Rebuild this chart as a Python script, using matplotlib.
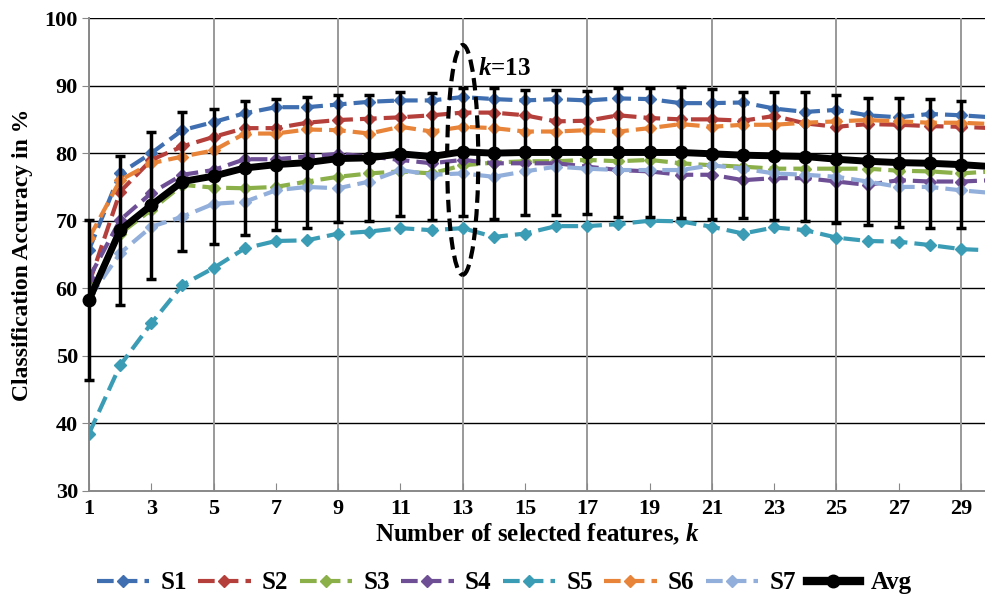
import matplotlib.pyplot as plt
import numpy as np
from matplotlib.patches import Ellipse
from matplotlib.lines import Line2D

# numero de atributos selecionados
k = list(range(1, 31))

s1 = [65.7, 77.0, 80.0, 83.4, 84.6, 85.9, 86.8, 86.8, 87.2, 87.6,
      87.8, 87.8, 88.3, 88.0, 87.8, 88.0, 87.8, 88.1, 88.0, 87.4,
      87.4, 87.5, 86.6, 86.1, 86.4, 85.6, 85.3, 85.8, 85.6, 85.3]
s2 = [60.7, 74.3, 79.0, 81.0, 82.4, 83.7, 83.7, 84.5, 84.9, 85.1,
      85.3, 85.6, 86.0, 86.0, 85.6, 84.7, 84.8, 85.6, 85.2, 85.0,
      85.0, 84.8, 85.5, 84.4, 83.9, 84.3, 84.2, 84.0, 83.9, 83.7]
s3 = [59.3, 68.1, 71.6, 75.3, 74.9, 74.8, 75.0, 75.8, 76.5, 77.0,
      77.3, 77.0, 78.2, 78.6, 78.8, 78.8, 79.0, 78.8, 79.0, 78.5,
      78.2, 78.0, 77.7, 77.7, 77.7, 77.7, 77.4, 77.3, 77.0, 77.3]
s4 = [61.5, 70.1, 74.1, 76.8, 77.5, 79.1, 79.1, 79.5, 79.9, 79.5,
      79.0, 78.5, 79.0, 78.5, 78.5, 78.5, 78.0, 77.5, 77.3, 76.8,
      76.8, 76.0, 76.3, 76.3, 75.8, 75.3, 76.0, 75.8, 75.8, 76.0]
s5 = [38.5, 48.6, 54.8, 60.5, 63.0, 65.9, 67.0, 67.1, 68.1, 68.4,
      68.9, 68.6, 68.9, 67.6, 68.1, 69.2, 69.2, 69.5, 70.0, 69.9,
      69.1, 68.1, 69.0, 68.6, 67.5, 67.0, 66.9, 66.4, 65.8, 65.6]
s6 = [67.4, 76.0, 78.5, 79.5, 80.4, 82.9, 82.9, 83.5, 83.4, 82.9,
      83.9, 83.2, 83.9, 83.7, 83.2, 83.2, 83.4, 83.2, 83.7, 84.3,
      83.9, 84.2, 84.2, 84.5, 84.7, 84.9, 84.7, 84.5, 84.5, 84.3]
s7 = [58.5, 65.2, 69.1, 70.6, 72.5, 72.8, 74.5, 75.0, 74.8, 75.8,
      77.5, 76.8, 77.0, 76.5, 77.3, 78.0, 77.7, 77.5, 77.5, 77.5,
      78.2, 77.7, 77.0, 76.8, 76.5, 75.8, 75.0, 75.0, 74.5, 74.1]
avg = [58.3, 68.6, 72.3, 75.8, 76.6, 77.8, 78.3, 78.6, 79.2, 79.3,
       79.9, 79.5, 80.2, 80.0, 80.1, 80.1, 80.1, 80.1, 80.1, 80.1,
       79.9, 79.7, 79.6, 79.5, 79.1, 78.8, 78.6, 78.5, 78.3, 78.0]
std = [11.8, 11.0, 10.9, 10.3, 10.0, 9.85, 9.65, 9.75, 9.4, 9.3,
       9.2, 9.45, 9.45, 9.7, 9.3, 9.3, 9.15, 9.5, 9.6, 9.75,
       9.65, 9.3, 9.45, 9.55, 9.5, 9.4, 9.6, 9.55, 9.45, 9.4]

nomes = ['S1', 'S2', 'S3', 'S4', 'S5', 'S6', 'S7']
series = [s1, s2, s3, s4, s5, s6, s7]
cores = ['#3f6fb0', '#b5403b', '#8bb04a', '#6e4f96', '#3a9cb5', '#e8843a', '#92aeda']

plt.rcParams['font.family'] = 'Liberation Serif'
plt.rcParams['font.weight'] = 'bold'
# k em italico e negrito, na mesma fonte serifada
plt.rcParams['mathtext.fontset'] = 'custom'
plt.rcParams['mathtext.rm'] = 'Liberation Serif:bold'
plt.rcParams['mathtext.it'] = 'Liberation Serif:italic:bold'
plt.rcParams['mathtext.bf'] = 'Liberation Serif:bold'

fig = plt.figure(figsize=(9.85, 6.01), dpi=100)
ax = fig.add_axes([89/985, 110/601, 896/985, 473/601])

# linhas de grade
for yy in range(40, 101, 10):
    ax.axhline(yy, color='black', lw=1.0, zorder=0)
for xx in range(1, 30, 4):
    ax.axvline(xx, color='#999999', lw=1.4, zorder=0)

tracejado = (0, (4, 1.7))

# series individuais
for nome, s, c in zip(nomes, series, cores):
    ax.plot(k, s, color=c, lw=3, ls=tracejado, marker='D',
            markersize=6, label=nome, zorder=3)

# media com barras de erro
ax.errorbar(k, avg, yerr=std, color='black', lw=5, marker='o', markersize=9,
            ecolor='black', elinewidth=2.5, capsize=3.5, capthick=2.5,
            label='Avg', zorder=4, clip_on=False)

# elipse destacando k=13
el = Ellipse((13, 79), width=1.0, height=34, fill=False, ec='black',
             lw=3, ls=(0, (3, 1.5)), zorder=5)
ax.add_patch(el)
ax.text(13.5, 92.6, r'$k$=13', fontsize=18, fontweight='bold',
        va='center', ha='left', zorder=6)

ax.set_xlim(1, 29.77)
ax.set_ylim(30, 100)
ax.set_xticks(range(1, 30, 2))
ax.set_yticks(range(30, 101, 10))
ax.tick_params(axis='x', direction='in', length=6, color='#888888',
               labelsize=16, pad=6)
ax.tick_params(axis='y', direction='out', length=5, color='#888888',
               labelsize=16, pad=3)
for sp in ['top', 'right']:
    ax.spines[sp].set_visible(False)
ax.spines['left'].set_color('#888888')
ax.spines['bottom'].set_color('#888888')
ax.spines['left'].set_linewidth(1.4)
ax.spines['bottom'].set_linewidth(1.4)

ax.set_xlabel(r'Number of selected features, $k$', fontsize=18,
              fontweight='bold', labelpad=2)
ax.set_ylabel('Classification Accuracy in %', fontsize=17, fontweight='bold',
              labelpad=8)

# legenda
handles = [Line2D([], [], color=c, lw=3, ls=tracejado, marker='D',
                  markersize=6) for c in cores]
handles.append(Line2D([], [], color='black', lw=6, marker='o', markersize=9))
fig.legend(handles, nomes + ['Avg'], loc='center', bbox_to_anchor=(0.512, 0.03),
           ncol=8, frameon=False, fontsize=18, handlelength=2.1,
           columnspacing=0.45, handletextpad=0.45)

plt.savefig('out.png', dpi=100)
